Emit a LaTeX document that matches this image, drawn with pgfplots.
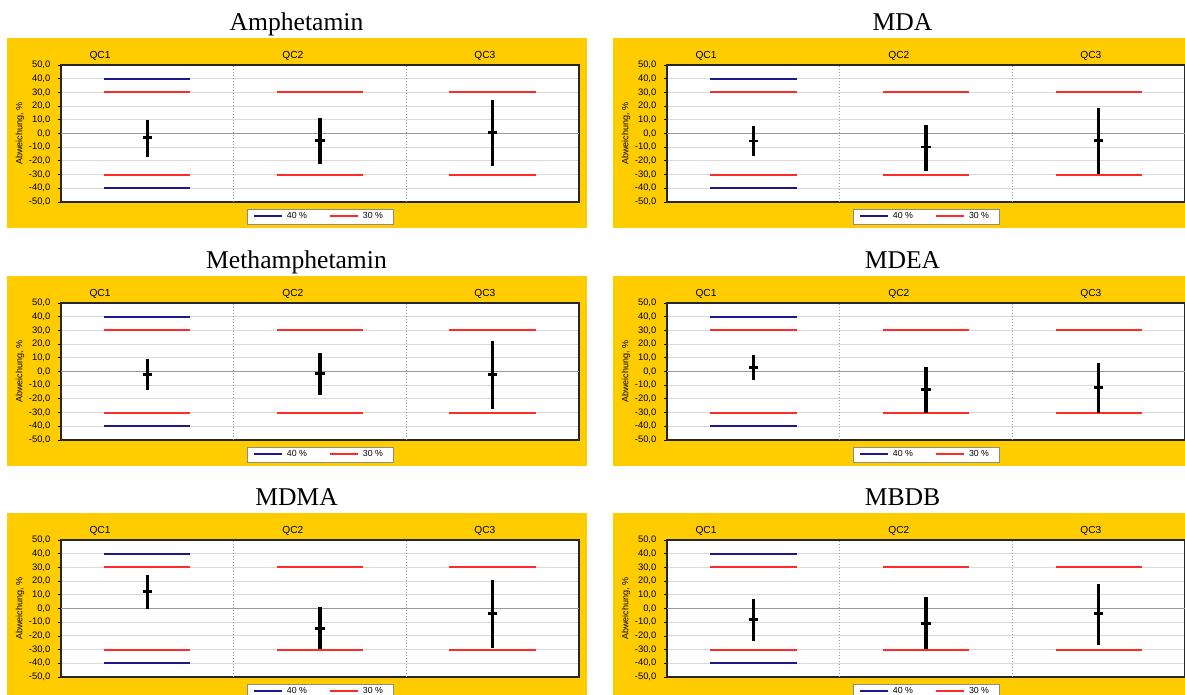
\documentclass[border=0pt]{standalone}
\usepackage{fontspec}
\setmainfont{Liberation Sans}
\newfontfamily\titlefont{Liberation Serif}
\usepackage{pgfplots}
\usepackage{pgfplotstable}
\pgfplotsset{compat=1.18}

\definecolor{qcorange}{HTML}{FFCC00}
\definecolor{limred}{HTML}{FF2A2A}
\definecolor{limblue}{HTML}{1A1A8C}
\definecolor{gridgray}{HTML}{D9D9D9}

% deviation of the mean (m) with the range from lo to hi, per QC level
\pgfplotstableread[row sep=\\]{
x m hi lo \\
0.5 -3.0 10.0 -17.0 \\
1.5 -5.0 11.0 -22.0 \\
2.5 0.5 24.4 -23.7 \\
}\amphetamin
\pgfplotstableread[row sep=\\]{
x m hi lo \\
0.5 -5.5 5.2 -16.7 \\
1.5 -9.9 6.2 -27.2 \\
2.5 -5.4 18.3 -29.8 \\
}\mda
\pgfplotstableread[row sep=\\]{
x m hi lo \\
0.5 -1.9 9.4 -13.2 \\
1.5 -1.2 13.7 -16.8 \\
2.5 -2.2 22.4 -27.4 \\
}\methamphetamin
\pgfplotstableread[row sep=\\]{
x m hi lo \\
0.5 3.1 12.3 -6.5 \\
1.5 -13.1 3.1 -30.0 \\
2.5 -11.4 6.1 -30.0 \\
}\mdea
\pgfplotstableread[row sep=\\]{
x m hi lo \\
0.5 12.7 24.6 0.0 \\
1.5 -14.6 0.8 -29.8 \\
2.5 -3.5 21.1 -28.8 \\
}\mdma
\pgfplotstableread[row sep=\\]{
x m hi lo \\
0.5 -7.8 6.8 -23.8 \\
1.5 -10.7 8.3 -29.7 \\
2.5 -3.9 18.0 -26.5 \\
}\mbdb

\pgfplotsset{
  qcaxis/.style={
    scale only axis, width=259pt, height=68.5pt,
    xmin=0, xmax=3, ymin=-50, ymax=50,
    axis background/.style={fill=white},
    axis line style={draw=black!85, line width=0.6pt},
    ytick={-50,-40,...,50},
    ytick pos=left,
    tick align=outside,
    major tick length=1.5pt,
    ytick style={draw=black, line width=0.4pt},
    ymajorgrids,
    major grid style={draw=gridgray, line width=0.5pt},
    yticklabel style={font=\fontsize{4.7}{5}\selectfont, xshift=-0.3pt,
      /pgf/number format/.cd, fixed, fixed zerofill, precision=1, use comma, assume math mode=true},
    xtick={0.226,1.343,2.455},
    xticklabels={QC1,QC2,QC3},
    xticklabel pos=upper,
    xtick style={draw=none},
    xticklabel style={font=\fontsize{5.1}{6}\selectfont, yshift=-2.5pt},
    extra x ticks={1,2},
    extra x tick labels={},
    extra x tick style={grid=major, major grid style={draw=black!40, densely dotted, line width=0.5pt}},
    extra y ticks={0},
    extra y tick labels={},
    extra y tick style={grid=major, major grid style={draw=black!40, line width=0.6pt}},
    ylabel={Abweichung, \%},
    ylabel style={font=\fontsize{4.5}{5}\selectfont, at={(axis description cs:-0.079,0.5)}, anchor=center},
    legend columns=2,
    legend style={at={(axis description cs:0.5,-0.051)}, anchor=north, draw=black!45, fill=white,
      font=\fontsize{4.4}{5}\selectfont, inner xsep=3pt, inner ysep=0.3pt,
      nodes={inner ysep=1.1pt},
      /tikz/every even column/.append style={column sep=9pt}},
    legend image code/.code={\draw[#1] (0pt,0.4pt) -- (14pt,0.4pt);},
  },
  limit/.style={line width=1pt, unbounded coords=jump},
}

\newcommand{\qcpanel}[4]{%
  \begin{scope}[xshift=#1, yshift=#2]
    \fill[qcorange] (3.5pt,-19pt) rectangle (293.5pt,-114pt);
    \node[anchor=base, font=\titlefont\fontsize{12.8}{14}\selectfont] at (148.25pt,-15.5pt) {#3};
    \begin{axis}[qcaxis, at={(30.5pt,-32.5pt)}, anchor=north west]
      \addplot[limblue, limit] coordinates {(0.25,40) (0.75,40)};
      \addlegendentry{40 \%}
      \addplot[limred, limit] coordinates {
        (0.25,30) (0.75,30) (1,nan) (1.25,30) (1.75,30) (2,nan) (2.25,30) (2.75,30) (2.8,nan)
        (0.25,-30) (0.75,-30) (1,nan) (1.25,-30) (1.75,-30) (2,nan) (2.25,-30) (2.75,-30)};
      \addlegendentry{30 \%}
      \addplot[limblue, limit, forget plot] coordinates {(0.25,-40) (0.75,-40)};
      \addplot[forget plot, only marks, black, mark=-, mark size=2.3pt, line width=1.4pt,
        mark options={line width=1.4pt},
        error bars/.cd, y dir=both, y explicit, error mark=none,
        error bar style={line width=1.6pt, black}]
        table[x=x, y=m, y error plus expr=\thisrow{hi}-\thisrow{m},
              y error minus expr=\thisrow{m}-\thisrow{lo}] {#4};
    \end{axis}
  \end{scope}}

\begin{document}
\begin{tikzpicture}
  \path[use as bounding box, clip] (0,0) rectangle (592.5pt,-347.5pt);
  \fill[white] (0,0) rectangle (592.5pt,-347.5pt);
  \qcpanel{0pt}{0pt}{Amphetamin}{\amphetamin}
  \qcpanel{303pt}{0pt}{MDA}{\mda}
  \qcpanel{0pt}{-119pt}{Methamphetamin}{\methamphetamin}
  \qcpanel{303pt}{-119pt}{MDEA}{\mdea}
  \qcpanel{0pt}{-237.5pt}{MDMA}{\mdma}
  \qcpanel{303pt}{-237.5pt}{MBDB}{\mbdb}
\end{tikzpicture}
\end{document}
